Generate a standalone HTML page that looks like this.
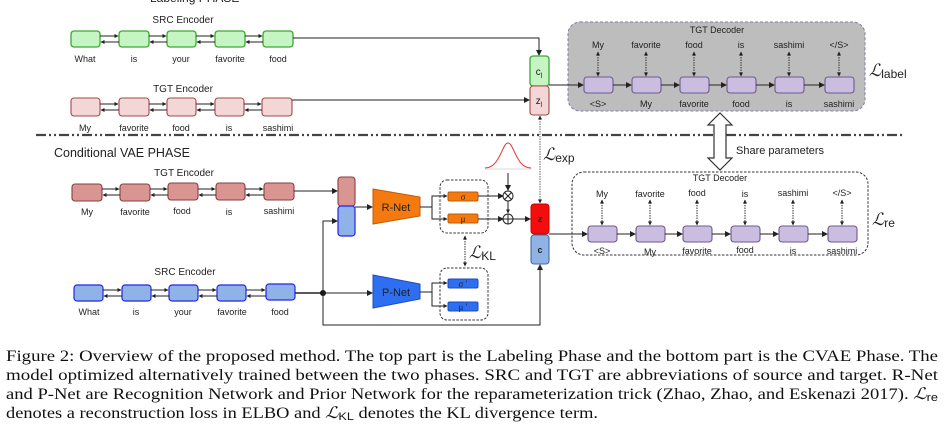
<!DOCTYPE html>
<html><head><meta charset="utf-8"><style>
html,body{margin:0;padding:0;background:#fff;width:951px;height:435px;overflow:hidden}
svg{display:block}
.s{font-family:"Liberation Sans",sans-serif;fill:#222}
.c{font-family:"Liberation Serif",serif;font-size:16px;fill:#111}
</style></head><body>
<svg width="951" height="435" viewBox="0 0 951 435" xmlns="http://www.w3.org/2000/svg">
<defs>
<marker id="a" markerWidth="6" markerHeight="6" refX="5" refY="3" orient="auto" markerUnits="userSpaceOnUse"><path d="M0,0 L6,3 L0,6z" fill="#222"/></marker>
<marker id="as" markerWidth="4" markerHeight="4" refX="3.5" refY="2" orient="auto" markerUnits="userSpaceOnUse"><path d="M0,0 L4,2 L0,4z" fill="#222"/></marker>
<marker id="asr" markerWidth="4" markerHeight="4" refX="0.5" refY="2" orient="auto" markerUnits="userSpaceOnUse"><path d="M4,0 L0,2 L4,4z" fill="#222"/></marker>
</defs>
<text x="150" y="2" class="s" font-size="12">Labeling PHASE</text>

<!-- Top SRC encoder -->
<text x="183" y="23" class="s" font-size="10" text-anchor="middle">SRC Encoder</text>
<g fill="#c6f5c4" stroke="#3ca636" stroke-width="1.3">
<rect x="71" y="31" width="29" height="16" rx="3"/><rect x="119" y="31" width="30" height="16" rx="3"/><rect x="167" y="31" width="29" height="16" rx="3"/><rect x="215" y="31" width="30" height="16" rx="3"/><rect x="263" y="31" width="30" height="16" rx="3"/>
</g>
<g stroke="#222" stroke-width="1" marker-end="url(#as)">
<line x1="100" y1="36" x2="118" y2="36"/><line x1="119" y1="42" x2="101" y2="42"/>
<line x1="149" y1="36" x2="166" y2="36"/><line x1="167" y1="42" x2="150" y2="42"/>
<line x1="196" y1="36" x2="214" y2="36"/><line x1="215" y1="42" x2="197" y2="42"/>
<line x1="245" y1="36" x2="262" y2="36"/><line x1="263" y1="42" x2="246" y2="42"/>
</g>
<g class="s" font-size="9" text-anchor="middle"><text x="85" y="62">What</text><text x="134" y="62">is</text><text x="181" y="62">your</text><text x="230" y="62">favorite</text><text x="278" y="62">food</text></g>
<path d="M293,38 H539 V55" fill="none" stroke="#222" stroke-width="1" marker-end="url(#a)"/>

<!-- Top TGT encoder -->
<text x="183" y="92" class="s" font-size="10" text-anchor="middle">TGT Encoder</text>
<g fill="#f3d6d6" stroke="#a04848" stroke-width="1.1">
<rect x="71" y="98" width="29" height="18" rx="3"/><rect x="119" y="98" width="30" height="18" rx="3"/><rect x="167" y="98" width="29" height="18" rx="3"/><rect x="215" y="98" width="29" height="18" rx="3"/><rect x="262" y="98" width="30" height="18" rx="3"/>
</g>
<g stroke="#222" stroke-width="1" marker-end="url(#as)">
<line x1="100" y1="104" x2="118" y2="104"/><line x1="119" y1="110" x2="101" y2="110"/>
<line x1="149" y1="104" x2="166" y2="104"/><line x1="167" y1="110" x2="150" y2="110"/>
<line x1="196" y1="104" x2="214" y2="104"/><line x1="215" y1="110" x2="197" y2="110"/>
<line x1="244" y1="104" x2="261" y2="104"/><line x1="262" y1="110" x2="245" y2="110"/>
</g>
<g class="s" font-size="9" text-anchor="middle"><text x="85" y="131">My</text><text x="134" y="131">favorite</text><text x="181" y="131">food</text><text x="229" y="131">is</text><text x="278" y="131">sashimi</text></g>
<line x1="292" y1="100" x2="529" y2="100" stroke="#222" stroke-width="1" marker-end="url(#a)"/>

<rect x="530" y="56" width="19" height="30" rx="3" fill="#c6f5c4" stroke="#3ca636" stroke-width="1.3"/>
<rect x="530" y="86" width="19" height="29" rx="3" fill="#f3d6d6" stroke="#a04848" stroke-width="1.1"/>
<text x="539" y="75" class="s" font-size="10" text-anchor="middle">c<tspan font-size="7" dy="3">l</tspan></text>
<text x="539" y="104" class="s" font-size="10" text-anchor="middle">z<tspan font-size="7" dy="3">l</tspan></text>

<!-- top decoder -->
<rect x="568" y="22" width="297" height="89" rx="12" fill="#bdbdbd" stroke="#8a78a8" stroke-dasharray="3,2"/>
<text x="717" y="33" class="s" font-size="9" text-anchor="middle">TGT Decoder</text>
<line x1="549" y1="85" x2="583" y2="85" stroke="#222" stroke-width="1" marker-end="url(#a)"/>
<g fill="#cabde0" stroke="#6d5a8e" stroke-width="1.1">
<rect x="584" y="77" width="29" height="16" rx="3"/><rect x="632" y="77" width="29" height="16" rx="3"/><rect x="680" y="77" width="29" height="16" rx="3"/><rect x="727" y="77" width="29" height="16" rx="3"/><rect x="775" y="77" width="29" height="16" rx="3"/><rect x="825" y="77" width="29" height="16" rx="3"/>
</g>
<g stroke="#222" stroke-width="1" marker-end="url(#a)">
<line x1="613" y1="85" x2="631" y2="85"/><line x1="661" y1="85" x2="679" y2="85"/><line x1="709" y1="85" x2="726" y2="85"/><line x1="756" y1="85" x2="774" y2="85"/><line x1="804" y1="85" x2="824" y2="85"/>
</g>
<g stroke="#333" stroke-width="1" stroke-dasharray="1.5,1" marker-start="url(#asr)" marker-end="url(#as)">
<line x1="598" y1="52" x2="598" y2="76"/><line x1="646" y1="52" x2="646" y2="76"/><line x1="694" y1="52" x2="694" y2="76"/><line x1="741" y1="52" x2="741" y2="76"/><line x1="789" y1="52" x2="789" y2="76"/><line x1="839" y1="52" x2="839" y2="76"/>
</g>
<g class="s" font-size="9" text-anchor="middle">
<text x="598" y="48">My</text><text x="646" y="48">favorite</text><text x="694" y="48">food</text><text x="741" y="48">is</text><text x="789" y="48">sashimi</text><text x="839" y="48">&lt;/S&gt;</text>
<text x="598" y="107">&lt;S&gt;</text><text x="646" y="107">My</text><text x="694" y="107">favorite</text><text x="741" y="107">food</text><text x="789" y="107">is</text><text x="839" y="107">sashimi</text>
</g>
<text x="869" y="76" font-family="Liberation Serif,serif" font-style="italic" font-size="17" fill="#222">ℒ<tspan font-family="Liberation Sans,sans-serif" font-style="normal" font-size="12" dy="2">label</tspan></text>

<!-- dash-dot separator -->
<line x1="36" y1="135" x2="903" y2="135" stroke="#444" stroke-width="2.2" stroke-dasharray="10,3,2,3,2,3"/>

<!-- share arrow -->
<path d="M720,113 L732,125 L726,125 L726,158 L732,158 L720,170 L708,158 L714,158 L714,125 L708,125 Z" fill="#fff" stroke="#333" stroke-width="1.2"/>
<text x="736" y="154" class="s" font-size="11">Share parameters</text>

<text x="54" y="157" class="s" font-size="12.5">Conditional VAE PHASE</text>

<!-- bottom TGT encoder -->
<text x="184" y="176" class="s" font-size="10" text-anchor="middle">TGT Encoder</text>
<g fill="#d99592" stroke="#8a3e3e" stroke-width="1.1">
<rect x="72" y="184" width="30" height="17" rx="3"/><rect x="120" y="184" width="30" height="17" rx="3"/><rect x="168" y="183" width="30" height="17" rx="3"/><rect x="216" y="183" width="29" height="17" rx="3"/><rect x="264" y="183" width="30" height="17" rx="3"/>
</g>
<g stroke="#222" stroke-width="1" marker-end="url(#as)">
<line x1="102" y1="189" x2="119" y2="189"/><line x1="120" y1="195" x2="103" y2="195"/>
<line x1="150" y1="189" x2="167" y2="189"/><line x1="168" y1="195" x2="151" y2="195"/>
<line x1="198" y1="189" x2="215" y2="189"/><line x1="216" y1="195" x2="199" y2="195"/>
<line x1="245" y1="189" x2="263" y2="189"/><line x1="264" y1="195" x2="246" y2="195"/>
</g>
<g class="s" font-size="9" text-anchor="middle"><text x="87" y="215">My</text><text x="135" y="215">favorite</text><text x="182" y="214">food</text><text x="229" y="215">is</text><text x="279" y="214">sashimi</text></g>
<line x1="294" y1="191" x2="337" y2="191" stroke="#222" stroke-width="1" marker-end="url(#a)"/>

<!-- bottom SRC encoder -->
<text x="185" y="275" class="s" font-size="10" text-anchor="middle">SRC Encoder</text>
<g fill="#8fb3e6" stroke="#2424e6" stroke-width="1.2">
<rect x="74" y="285" width="29" height="16" rx="3"/><rect x="122" y="285" width="29" height="16" rx="3"/><rect x="169" y="285" width="29" height="16" rx="3"/><rect x="217" y="285" width="29" height="16" rx="3"/><rect x="266" y="284" width="29" height="16" rx="3"/>
</g>
<g stroke="#222" stroke-width="1" marker-end="url(#as)">
<line x1="103" y1="290" x2="121" y2="290"/><line x1="122" y1="296" x2="104" y2="296"/>
<line x1="151" y1="290" x2="168" y2="290"/><line x1="169" y1="296" x2="152" y2="296"/>
<line x1="198" y1="290" x2="216" y2="290"/><line x1="217" y1="296" x2="199" y2="296"/>
<line x1="246" y1="290" x2="265" y2="290"/><line x1="266" y1="296" x2="247" y2="296"/>
</g>
<g class="s" font-size="9" text-anchor="middle"><text x="89" y="315">What</text><text x="136" y="315">is</text><text x="183" y="315">your</text><text x="232" y="315">favorite</text><text x="280" y="315">food</text></g>
<line x1="295" y1="293" x2="323" y2="293" stroke="#222" stroke-width="1.5"/>
<circle cx="323" cy="293" r="3" fill="#111"/>
<path d="M323,293 V221 H337" fill="none" stroke="#222" stroke-width="1" marker-end="url(#a)"/>
<line x1="323" y1="293" x2="372" y2="293" stroke="#222" stroke-width="1" marker-end="url(#a)"/>
<path d="M323,293 V325 H540 V265" fill="none" stroke="#222" stroke-width="1" marker-end="url(#a)"/>

<!-- concat boxes -->
<rect x="338" y="177" width="17" height="29" rx="3" fill="#d99592" stroke="#8a3e3e" stroke-width="1.1"/>
<rect x="338" y="206" width="17" height="30" rx="3" fill="#8fb3e6" stroke="#2424e6" stroke-width="1.2"/>
<line x1="355" y1="207" x2="372" y2="207" stroke="#222" stroke-width="1" marker-end="url(#a)"/>

<!-- R-Net -->
<path d="M373,189 L420,197 L420,216 L373,224 Z" fill="#f47a10" stroke="#c05a08"/>
<text x="396" y="211" class="s" font-size="11" text-anchor="middle" fill="#222">R-Net</text>
<path d="M420,207 H432 V196 H447 M432,207 V219 H447" fill="none" stroke="#222" stroke-width="1"/>
<line x1="440" y1="196" x2="447" y2="196" stroke="#222" marker-end="url(#as)"/>
<line x1="440" y1="219" x2="447" y2="219" stroke="#222" marker-end="url(#as)"/>
<rect x="440" y="180" width="48" height="53" rx="7" fill="none" stroke="#333" stroke-dasharray="2.5,1.5"/>
<rect x="448" y="192" width="30" height="9" rx="1.5" fill="#f47a10" stroke="#c05a08"/>
<rect x="448" y="214" width="30" height="9" rx="1.5" fill="#f47a10" stroke="#c05a08"/>
<text x="463" y="200" font-family="Liberation Serif,serif" font-size="9" text-anchor="middle" fill="#222">σ</text>
<text x="463" y="222" font-family="Liberation Serif,serif" font-size="9" text-anchor="middle" fill="#222">μ</text>
<line x1="478" y1="196" x2="503" y2="196" stroke="#222" marker-end="url(#a)"/>
<line x1="478" y1="219" x2="503" y2="219" stroke="#222" marker-end="url(#a)"/>
<circle cx="508" cy="196" r="5" fill="#fff" stroke="#222"/><path d="M504.5,192.5 L511.5,199.5 M511.5,192.5 L504.5,199.5" stroke="#222"/>
<circle cx="508" cy="219" r="5" fill="#fff" stroke="#222"/><path d="M503,219 H513 M508,214 V224" stroke="#222"/>
<line x1="508" y1="201" x2="508" y2="213" stroke="#222" marker-end="url(#as)"/>
<line x1="508" y1="173" x2="508" y2="190" stroke="#222" marker-end="url(#a)"/>
<line x1="513" y1="219" x2="530" y2="219" stroke="#222" marker-end="url(#a)"/>
<!-- gaussian -->
<line x1="485" y1="169" x2="532" y2="169" stroke="#ccc" stroke-width="0.8"/>
<path d="M485,168 C500,168 502,143 508,143 C514,143 516,168 531,168" fill="none" stroke="#f03030" stroke-width="1"/>

<!-- L_KL -->
<line x1="465" y1="236" x2="465" y2="266" stroke="#333" stroke-dasharray="1.5,1" marker-start="url(#asr)" marker-end="url(#as)"/>
<text x="469" y="258" font-family="Liberation Serif,serif" font-style="italic" font-size="17" fill="#222">ℒ<tspan font-family="Liberation Sans,sans-serif" font-style="normal" font-size="12" dy="2">KL</tspan></text>

<!-- P-Net -->
<path d="M373,275 L420,284 L420,299 L373,308 Z" fill="#2e6ef0" stroke="#1a4cc0"/>
<text x="396" y="296" class="s" font-size="11" text-anchor="middle" fill="#222">P-Net</text>
<path d="M420,292 H432 V283 H440 M432,292 V306 H440" fill="none" stroke="#222" stroke-width="1"/>
<line x1="440" y1="283" x2="447" y2="283" stroke="#222" marker-end="url(#as)"/>
<line x1="440" y1="306" x2="447" y2="306" stroke="#222" marker-end="url(#as)"/>
<rect x="440" y="268" width="48" height="52" rx="7" fill="none" stroke="#333" stroke-dasharray="2.5,1.5"/>
<rect x="448" y="279" width="30" height="9" rx="1.5" fill="#2e6ef0" stroke="#1a4cc0"/>
<rect x="448" y="302" width="30" height="9" rx="1.5" fill="#2e6ef0" stroke="#1a4cc0"/>
<text x="463" y="287" font-family="Liberation Serif,serif" font-size="9" text-anchor="middle" fill="#222">σ ′</text>
<text x="463" y="310" font-family="Liberation Serif,serif" font-size="9" text-anchor="middle" fill="#222">μ ′</text>

<!-- z, c -->
<line x1="540" y1="116" x2="540" y2="203" stroke="#666" stroke-dasharray="1.5,1" marker-start="url(#asr)" marker-end="url(#as)"/>
<text x="543" y="160" font-family="Liberation Serif,serif" font-style="italic" font-size="17" fill="#222">ℒ<tspan font-family="Liberation Sans,sans-serif" font-style="normal" font-size="12" dy="2">exp</tspan></text>
<rect x="531" y="204" width="18" height="30" rx="3" fill="#f40d0d" stroke="#c00"/>
<rect x="531" y="235" width="18" height="29" rx="3" fill="#8fb3e6" stroke="#4a6a9a" stroke-width="1.1"/>
<text x="540" y="222" class="s" font-size="9" font-weight="bold" text-anchor="middle">z</text>
<text x="540" y="253" class="s" font-size="9" font-weight="bold" text-anchor="middle">c</text>
<line x1="549" y1="234" x2="587" y2="234" stroke="#222" marker-end="url(#a)"/>

<!-- bottom decoder -->
<rect x="572" y="172" width="296" height="83" rx="12" fill="none" stroke="#333" stroke-dasharray="2.5,1.5"/>
<text x="720" y="181" class="s" font-size="9" text-anchor="middle">TGT Decoder</text>
<g fill="#cabde0" stroke="#6d5a8e" stroke-width="1.1">
<rect x="588" y="226" width="29" height="16" rx="3"/><rect x="636" y="226" width="29" height="16" rx="3"/><rect x="683" y="226" width="29" height="16" rx="3"/><rect x="731" y="226" width="29" height="16" rx="3"/><rect x="779" y="226" width="29" height="16" rx="3"/><rect x="828" y="226" width="29" height="16" rx="3"/>
</g>
<g stroke="#222" stroke-width="1" marker-end="url(#a)">
<line x1="617" y1="234" x2="635" y2="234"/><line x1="665" y1="234" x2="682" y2="234"/><line x1="712" y1="234" x2="730" y2="234"/><line x1="760" y1="234" x2="778" y2="234"/><line x1="808" y1="234" x2="827" y2="234"/>
</g>
<g stroke="#333" stroke-width="1" stroke-dasharray="1.5,1" marker-start="url(#asr)" marker-end="url(#as)">
<line x1="602" y1="200" x2="602" y2="225"/><line x1="650" y1="200" x2="650" y2="225"/><line x1="697" y1="200" x2="697" y2="225"/><line x1="745" y1="200" x2="745" y2="225"/><line x1="793" y1="200" x2="793" y2="225"/><line x1="842" y1="200" x2="842" y2="225"/>
</g>
<g class="s" font-size="9" text-anchor="middle">
<text x="602" y="197">My</text><text x="650" y="197">favorite</text><text x="697" y="196">food</text><text x="745" y="197">is</text><text x="793" y="196">sashimi</text><text x="842" y="196">&lt;/S&gt;</text>
<text x="602" y="254">&lt;S&gt;</text><text x="650" y="255">My</text><text x="697" y="254">favorite</text><text x="745" y="253">food</text><text x="793" y="254">is</text><text x="842" y="254">sashimi</text>
</g>
<text x="872" y="225" font-family="Liberation Serif,serif" font-style="italic" font-size="17" fill="#222">ℒ<tspan font-family="Liberation Sans,sans-serif" font-style="normal" font-size="12" dy="2">re</tspan></text>

<!-- caption -->
<text x="6" y="361" class="c" textLength="932" lengthAdjust="spacingAndGlyphs">Figure 2: Overview of the proposed method. The top part is the Labeling Phase and the bottom part is the CVAE Phase. The</text>
<text x="6" y="380" class="c" textLength="932" lengthAdjust="spacingAndGlyphs">model optimized alternatively trained between the two phases. SRC and TGT are abbreviations of source and target. R-Net</text>
<text x="6" y="399" class="c" textLength="932" lengthAdjust="spacingAndGlyphs">and P-Net are Recognition Network and Prior Network for the reparameterization trick (Zhao, Zhao, and Eskenazi 2017). <tspan font-style="italic">ℒ</tspan><tspan font-family="Liberation Sans,sans-serif" font-size="11" dy="2">re</tspan></text>
<text x="6" y="418" class="c" textLength="592" lengthAdjust="spacingAndGlyphs">denotes a reconstruction loss in ELBO and <tspan font-style="italic">ℒ</tspan><tspan font-family="Liberation Sans,sans-serif" font-size="11" dy="2">KL</tspan><tspan dy="-2"> denotes the KL divergence term.</tspan></text>
</svg>
</body></html>
